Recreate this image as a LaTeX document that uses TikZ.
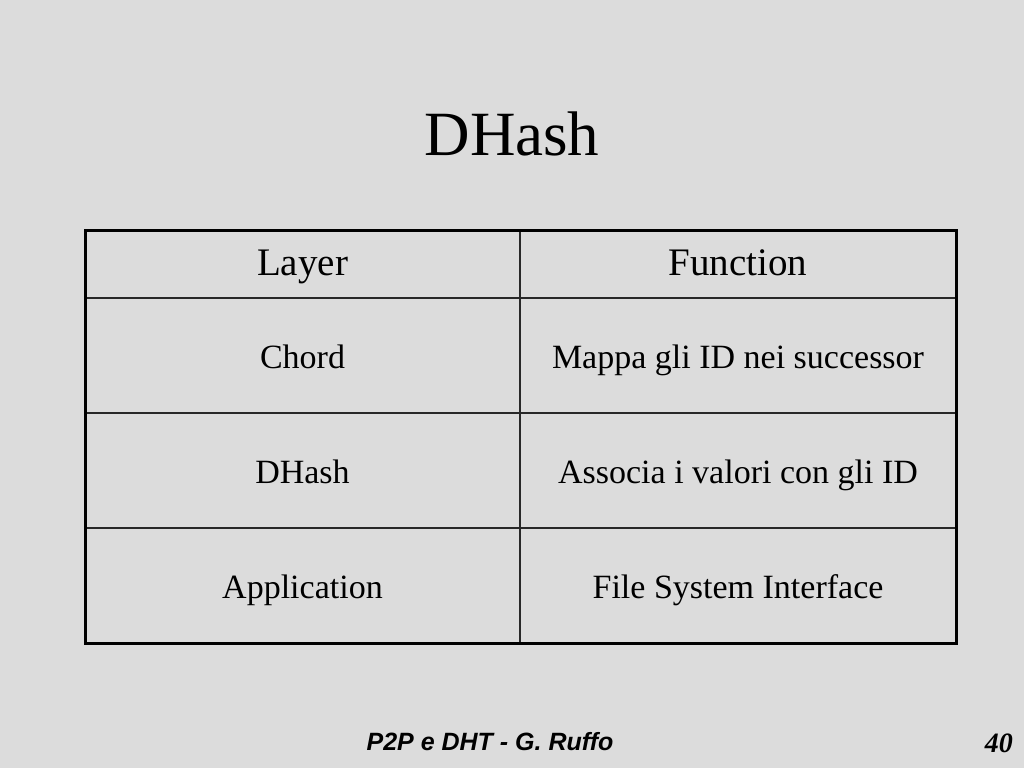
\documentclass[tikz,border=0pt]{standalone}
\usepackage{fontspec}
\setmainfont{Liberation Serif}
\newfontfamily\footfont{Liberation Sans}
\definecolor{bggray}{RGB}{220,220,220}
\definecolor{gridgray}{RGB}{40,40,40}
\begin{document}
\begin{tikzpicture}[x=1pt,y=-1pt,
  titletext/.style={anchor=base,inner sep=0pt,font=\fontsize{63}{70}\selectfont},
  headtext/.style={anchor=base,inner sep=0pt,font=\fontsize{39}{44}\selectfont},
  celltext/.style={anchor=base,inner sep=0pt,font=\fontsize{34}{40}\selectfont},
  foottext/.style={anchor=base,inner sep=0pt,font=\footfont\bfseries\itshape\fontsize{25}{28}\selectfont},
  pagetext/.style={anchor=base east,inner sep=0pt,font=\bfseries\itshape\fontsize{28}{32}\selectfont},
  outerline/.style={draw=black,line width=3pt},
  innerline/.style={draw=gridgray,line width=2pt}]
\fill[bggray] (0,0) rectangle (1024,768);
\useasboundingbox (0,0) rectangle (1024,768);
% title
\node[titletext] (title) at (512,155) {DHash};
% table grid
\draw[innerline] (85,298) -- (957,298);
\draw[innerline] (85,413) -- (957,413);
\draw[innerline] (85,528) -- (957,528);
\draw[innerline] (520,230) -- (520,643);
\draw[outerline] (85,230) rectangle (956,643);
% header
\node[headtext] (hlayer) at (302.5,275) {Layer};
\node[headtext] (hfunc) at (738,275) {Function};
% rows
\node[celltext] (l1) at (302.5,368) {Chord};
\node[celltext] (f1) at (738,368) {Mappa gli ID nei successor};
\node[celltext] (l2) at (302.5,483) {DHash};
\node[celltext] (f2) at (738,483) {Associa i valori con gli ID};
\node[celltext] (l3) at (302.5,598) {Application};
\node[celltext] (f3) at (738,598) {File System Interface};
% footer
\node[foottext] (foot) at (490,750) {P2P e DHT - G. Ruffo};
\node[pagetext] (page) at (1013,752) {40};
\end{tikzpicture}
\end{document}
